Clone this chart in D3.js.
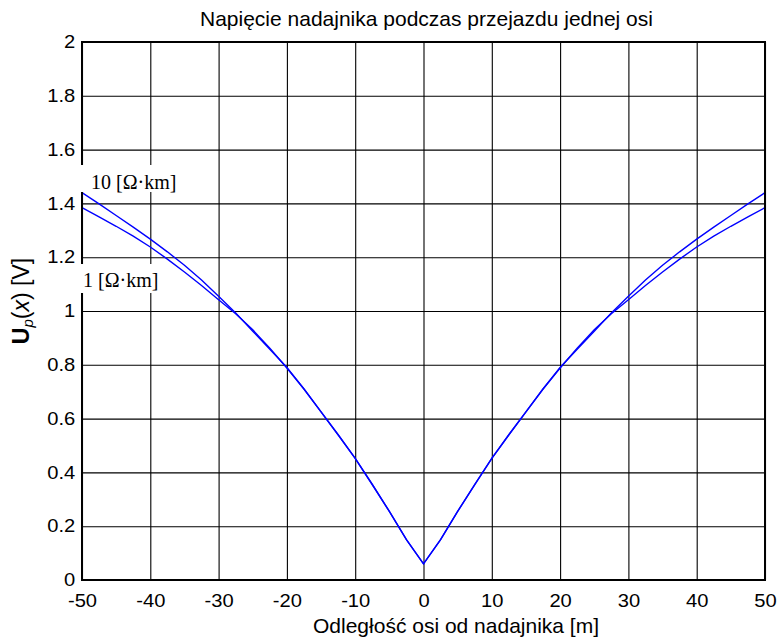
<!DOCTYPE html>
<html>
<head>
<meta charset="utf-8">
<script src="https://cdn.jsdelivr.net/npm/d3@7"></script>
<style>
  html, body { margin: 0; padding: 0; background: #fff; }
  svg { display: block; }
</style>
</head>
<body>
<svg id="chart" width="779" height="638"></svg>
<script>
// Distance of the axle from the transmitter [m]
const distance = [
  -50, -47.5, -45, -42.5, -40, -37.5, -35, -32.5, -30, -27.5, -25, -22.5, -20,
  -17.5, -15, -12.5, -10, -7.5, -5, -2.5, 0, 2.5, 5, 7.5, 10, 12.5, 15, 17.5,
  20, 22.5, 25, 27.5, 30, 32.5, 35, 37.5, 40, 42.5, 45, 47.5, 50
];
// Transmitter voltage Up(x) [V], ballast resistance 10 Ω·km
const voltage10 = [
  1.440, 1.398, 1.355, 1.312, 1.267, 1.220, 1.170, 1.115, 1.055, 0.993, 0.925, 0.858, 0.790,
  0.710, 0.625, 0.540, 0.452, 0.355, 0.255, 0.150, 0.060, 0.150, 0.255, 0.355, 0.452, 0.540,
  0.625, 0.710, 0.790, 0.858, 0.925, 0.993, 1.055, 1.115, 1.170, 1.220, 1.267, 1.312, 1.355,
  1.398, 1.440
];
// Transmitter voltage Up(x) [V], ballast resistance 1 Ω·km
const voltage1 = [
  1.384, 1.350, 1.315, 1.278, 1.238, 1.193, 1.145, 1.095, 1.042, 0.990, 0.930, 0.862, 0.788,
  0.710, 0.625, 0.540, 0.452, 0.355, 0.255, 0.150, 0.060, 0.150, 0.255, 0.355, 0.452, 0.540,
  0.625, 0.710, 0.788, 0.862, 0.930, 0.990, 1.042, 1.095, 1.145, 1.193, 1.238, 1.278, 1.315,
  1.350, 1.384
];
const xTicks = [-50, -40, -30, -20, -10, 0, 10, 20, 30, 40, 50];
const yTicks = [0, 0.2, 0.4, 0.6, 0.8, 1, 1.2, 1.4, 1.6, 1.8, 2];
const seriesLabels = ["10 [Ω·km]", "1 [Ω·km]"];

const svg = d3.select("#chart");
const margin = { left: 82, right: 14, top: 42, bottom: 58 };
const W = +svg.attr("width"), H = +svg.attr("height");
const w = W - margin.left - margin.right;
const h = H - margin.top - margin.bottom;

const x = d3.scaleLinear().domain([-50, 50]).range([0, w]);
const y = d3.scaleLinear().domain([0, 2]).range([h, 0]);

const g = svg.append("g").attr("transform", `translate(${margin.left},${margin.top})`);
const sans = "Liberation Sans, Arial, Helvetica, sans-serif";
const serif = "Liberation Serif, Times New Roman, serif";

// grid + tick labels
const xAxis = g.append("g")
  .attr("transform", `translate(0,${h})`)
  .call(d3.axisBottom(x).tickValues(xTicks).tickSize(-h).tickPadding(14)
    .tickFormat(d => String(d)));
const yAxis = g.append("g")
  .call(d3.axisLeft(y).tickValues(yTicks).tickSize(-w).tickPadding(6)
    .tickFormat(d => String(+d.toFixed(1))));

[xAxis, yAxis].forEach(a => {
  a.select(".domain").remove();
  a.selectAll(".tick line").attr("stroke", "#000").attr("stroke-width", 1.1);
  a.selectAll(".tick text").attr("fill", "#000")
    .attr("transform", "scale(1.12,1)")
    .style("font-family", sans).style("font-size", "18px");
});

// curves
const line = d3.line()
  .x((d, i) => x(distance[i]))
  .y(d => y(d));

[voltage10, voltage1].forEach(vals => {
  g.append("path")
    .datum(vals)
    .attr("fill", "none")
    .attr("stroke", "#0000ff")
    .attr("stroke-width", 1.4)
    .attr("d", line);
});

// frame
g.append("rect")
  .attr("x", 0).attr("y", 0).attr("width", w).attr("height", h)
  .attr("fill", "none").attr("stroke", "#000").attr("stroke-width", 2);

// series labels on white boxes
const labelBoxes = [
  { text: seriesLabels[0], x: -1, y: 123, bw: 102, bh: 27, tx: 9, ty: 147 },
  { text: seriesLabels[1], x: -1, y: 222, bw: 82, bh: 29, tx: 1, ty: 245 }
];
labelBoxes.forEach(b => {
  g.append("rect")
    .attr("x", b.x).attr("y", b.y).attr("width", b.bw).attr("height", b.bh)
    .attr("fill", "#fff");
  g.append("text")
    .attr("x", b.tx).attr("y", b.ty)
    .style("font-family", serif).style("font-size", "20px")
    .attr("fill", "#000")
    .text(b.text);
});

// title
svg.append("text")
  .attr("x", 200).attr("y", 26)
  .style("font-family", sans).style("font-size", "21px")
  .text("Napięcie nadajnika podczas przejazdu jednej osi");

// x axis label
svg.append("text")
  .attr("x", 313).attr("y", 633)
  .style("font-family", sans).style("font-size", "21px")
  .text("Odległość osi od nadajnika [m]");

// y axis label: Up(x) [V]
const yl = svg.append("text")
  .attr("transform", "translate(29,301) rotate(-90)")
  .attr("text-anchor", "middle")
  .style("font-family", sans).style("font-size", "23px");
yl.append("tspan").style("font-weight", "bold").text("U");
yl.append("tspan").style("font-style", "italic").style("font-size", "15px")
  .attr("dy", 4).text("p");
yl.append("tspan").attr("dy", -4).text("(");
yl.append("tspan").style("font-style", "italic").text("x");
yl.append("tspan").text(") [V]");
</script>
</body>
</html>
